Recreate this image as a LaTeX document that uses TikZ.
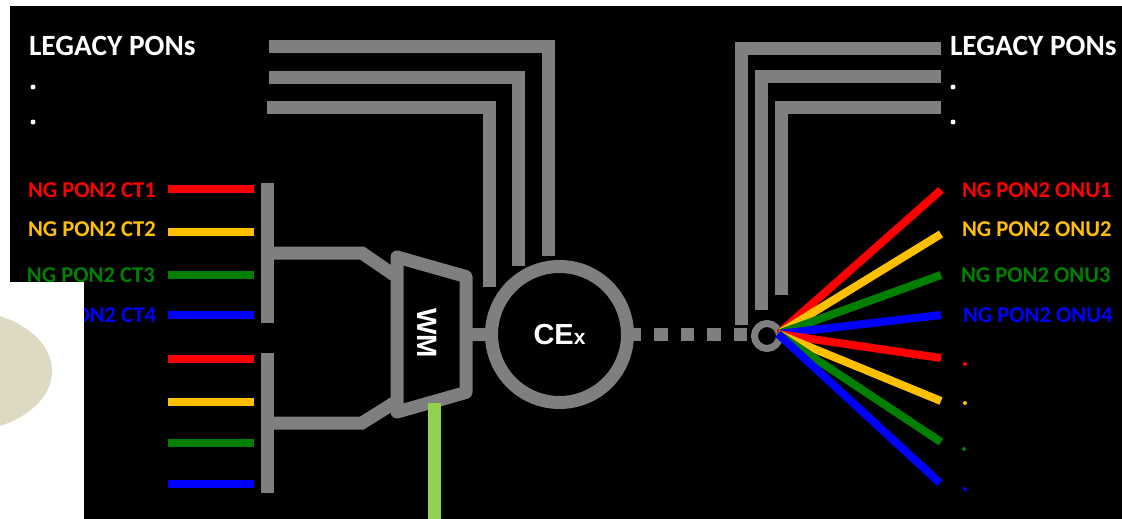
\documentclass[tikz,border=0pt]{standalone}
\usepackage{fontspec}
\setmainfont{Carlito}
\newfontfamily\arialfont{Liberation Sans}
\usepackage{xcolor}
\usetikzlibrary{positioning,shapes.geometric}
\definecolor{trunkgray}{HTML}{7F7F7F}
\definecolor{ngamber}{HTML}{FFC000}
\definecolor{nggreen}{HTML}{007F00}
\definecolor{nggreenline}{HTML}{92D050}
\definecolor{sandbeige}{HTML}{DDD9C3}

\begin{document}
\begin{tikzpicture}[
    x=1pt, y=-1pt,
    trunk/.style={draw=trunkgray, line width=13pt},
    fibre/.style={line width=8pt},
    label/.style={inner sep=0pt, outer sep=0pt, font=\bfseries\fontsize{22.6}{23}\selectfont},
    legacy/.style={label, text=white, font=\bfseries\fontsize{29.4}{30}\selectfont},
    bar/.style={fill=trunkgray, minimum width=13pt, minimum height=140pt, inner sep=0pt, outer sep=0pt},
    mux/.style={trapezium, draw=trunkgray, line width=13pt, line join=round, trapezium stretches=true,
      trapezium left angle=77.3, trapezium right angle=77.3,
      minimum width=155pt, minimum height=69pt, inner sep=0pt, outer sep=0pt},
    ring/.style={circle, draw=trunkgray, inner sep=0pt, outer sep=0pt},
  ]
  \useasboundingbox (0,0) rectangle (1122,519);
  \fill[white] (0,0) rectangle (1122,519);
  \fill[black] (10,6) rectangle (1122,519);

  % Legacy labels
  \node[legacy, anchor=west] (legacyl) at (29,46) {LEGACY PONs};
  \node[legacy, anchor=west] (legacyr) at (950,46) {LEGACY PONs};
  \node[circle, fill=white, inner sep=0pt, minimum size=5pt] (dotl1) at (33,87) {};
  \node[circle, fill=white, inner sep=0pt, minimum size=5pt] (dotl2) at (33,122) {};
  \node[circle, fill=white, inner sep=0pt, minimum size=5pt] (dotr1) at (953,87) {};
  \node[circle, fill=white, inner sep=0pt, minimum size=5pt] (dotr2) at (953,122) {};

  % CT labels
  \node[label, text=red, anchor=west] (ctlabel1) at (28,190) {NG PON2 CT1};
  \node[label, text=ngamber, anchor=west] (ctlabel2) at (28,229) {NG PON2 CT2};
  \node[label, text=nggreen, anchor=west] (ctlabel3) at (27,275) {NG PON2 CT3};
  \node[label, text=blue, anchor=east] (ctlabel4) at (156,315) {NG PON2 CT4};

  % Patch over the lower left corner
  \fill[white] (0,282) rectangle (84,519);
  \begin{scope}
    \clip (0,282) rectangle (84,519);
    \fill[sandbeige] (-40,371) ellipse (92 and 61);
  \end{scope}

  % CT stubs
  \coordinate (ctin1) at (168,189);
  \coordinate (ctin2) at (168,232);
  \coordinate (ctin3) at (168,275);
  \coordinate (ctin4) at (168,315);
  \coordinate (ctin5) at (168,359);
  \coordinate (ctin6) at (168,402);
  \coordinate (ctin7) at (168,443);
  \coordinate (ctin8) at (168,484);
  \draw[fibre, red] (ctin1) -- ++(86,0);
  \draw[fibre, ngamber] (ctin2) -- ++(86,0);
  \draw[fibre, nggreen] (ctin3) -- ++(86,0);
  \draw[fibre, blue] (ctin4) -- ++(86,0);
  \draw[fibre, red] (ctin5) -- ++(86,0);
  \draw[fibre, ngamber] (ctin6) -- ++(86,0);
  \draw[fibre, nggreen] (ctin7) -- ++(86,0);
  \draw[fibre, blue] (ctin8) -- ++(86,0);

  % Bars and WM
  \node[bar] (bara) at (267.5,253) {};
  \node[bar] (barb) at (267.5,423) {};
  \coordinate (wmin1) at (394,275);
  \coordinate (wmin2) at (394,403);
  \draw[trunk] (bara.east) -- ++(88,0) -- (wmin1);
  \draw[trunk] (barb.east) -- ++(88,0) -- (wmin2);
  \node[mux, rotate=-90] (wm) at (431.5,334.5) {\phantom{M}};
  \node[inner sep=0pt, rotate=-90, text=white, font=\arialfont\bfseries\fontsize{28}{28}\selectfont] (wmlabel) at (427,333) {WM};

  % CEx
  \node[ring, line width=13pt, minimum size=136pt, text=white, font=\arialfont\bfseries\fontsize{29}{29}\selectfont] (ce) at (559.5,334.5) {CE{\fontsize{21}{21}\selectfont x}};
  \draw[trunk] (wm.north) -- (ce.west);

  % Splitter
  \node[ring, line width=7pt, minimum size=25pt] (split) at (767,336) {};
  \draw[trunk, dash pattern=on 13.5pt off 13pt] (ce.east) -- (split.west |- ce.east);

  % Pump
  \coordinate (pump) at (434,519);
  \coordinate (pumpend) at (434,403);
  \draw[line width=13pt, nggreenline] (pump) -- (pumpend);

  % Legacy trunks
  \coordinate (legl1) at (269,47);
  \coordinate (legl2) at (269,78);
  \coordinate (legl3) at (267,107);
  \coordinate (legc1) at (548,256);
  \coordinate (legc2) at (518,266);
  \coordinate (legc3) at (489,287);
  \draw[trunk] (legl1) -| (legc1);
  \draw[trunk] (legl2) -| (legc2);
  \draw[trunk] (legl3) -| (legc3);
  \coordinate (legr1) at (941,49);
  \coordinate (legr2) at (941,77);
  \coordinate (legr3) at (941,107);
  \coordinate (legs1) at (741,325);
  \coordinate (legs2) at (761,310);
  \coordinate (legs3) at (781,295);
  \draw[trunk] (legr1) -| (legs1);
  \draw[trunk] (legr2) -| (legs2);
  \draw[trunk] (legr3) -| (legs3);

  % Fan out
  \coordinate (fan) at (778,334);
  \coordinate (onu1) at (941,190);
  \coordinate (onu2) at (941,234);
  \coordinate (onu3) at (941,275);
  \coordinate (onu4) at (941,315);
  \coordinate (onu5) at (941,358);
  \coordinate (onu6) at (941,401);
  \coordinate (onu7) at (941,442);
  \coordinate (onu8) at (940,483);
  \draw[fibre, red] (fan) -- (onu1);
  \draw[fibre, ngamber] (fan) -- (onu2);
  \draw[fibre, nggreen] (fan) -- (onu3);
  \draw[fibre, blue] (fan) -- (onu4);
  \draw[fibre, red] (fan) -- (onu5);
  \draw[fibre, ngamber] (fan) -- (onu6);
  \draw[fibre, nggreen] (fan) -- (onu7);
  \draw[fibre, blue] (fan) -- (onu8);

  % ONU labels
  \node[label, text=red, anchor=west] (onulabel1) at (962,190) {NG PON2 ONU1};
  \node[label, text=ngamber, anchor=west] (onulabel2) at (962,229) {NG PON2 ONU2};
  \node[label, text=nggreen, anchor=west] (onulabel3) at (961,275) {NG PON2 ONU3};
  \node[label, text=blue, anchor=west] (onulabel4) at (963,315) {NG PON2 ONU4};
  \node[circle, fill=red, inner sep=0pt, minimum size=4pt] (dotonu1) at (965,364) {};
  \node[circle, fill=ngamber, inner sep=0pt, minimum size=4pt] (dotonu2) at (965,403) {};
  \node[circle, fill=nggreen, inner sep=0pt, minimum size=4pt] (dotonu3) at (964,449) {};
  \node[circle, fill=blue, inner sep=0pt, minimum size=4pt] (dotonu4) at (965,489) {};
\end{tikzpicture}
\end{document}
